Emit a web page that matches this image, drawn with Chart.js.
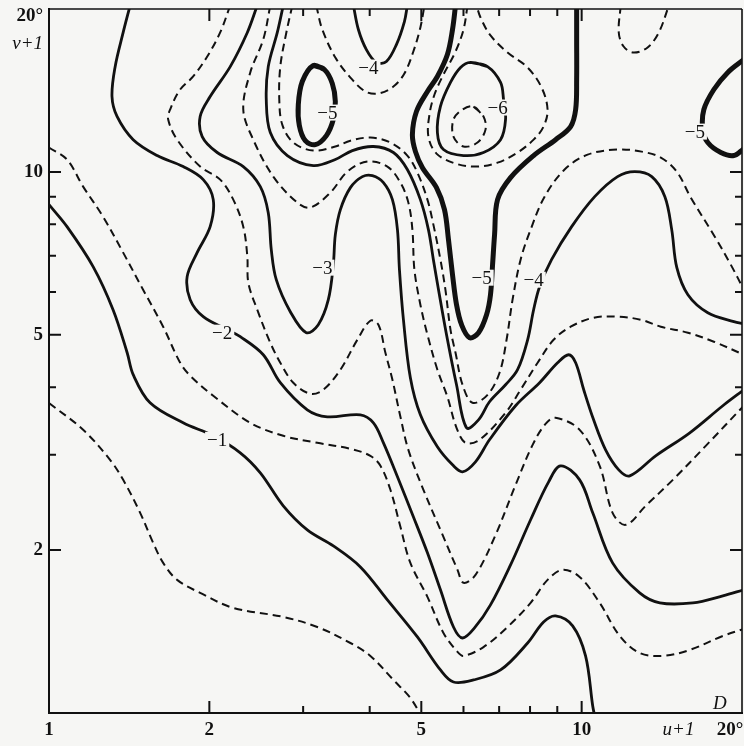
<!DOCTYPE html>
<html>
<head>
<meta charset="utf-8">
<script src="https://cdn.jsdelivr.net/npm/chart.js@4.4.1/dist/chart.umd.min.js"></script>
<style>
  html, body { margin: 0; padding: 0; background: #f6f6f4; }
</style>
</head>
<body>
<canvas id="chartD" width="744" height="746"></canvas>
<script>
// axis labels (label positions on the log axes)
var xTickVals = [1, 2, 5, 10, 15.2, 19.0];
var xTickText = ["1", "2", "5", "10", "u+1", "20°"];
var yTickVals = [2, 5, 10, 17.2, 19.4];
var yTickText = ["2", "5", "10", "v+1", "20°"];
var minorVals = [2, 3, 4, 5, 6, 7, 8, 9, 10];
var majorVals = [2, 5, 10];

// contour lines, pairs of [u+1, v+1]
var cMinus05 = [[1.00,3.74],[1.159,3.337],[1.302,2.937],[1.378,2.697],[1.483,2.344],[1.569,2.062],[1.638,1.894],[1.740,1.762],[1.922,1.667],[2.218,1.564],[2.753,1.505],[3.189,1.442],[3.680,1.347],[4.012,1.275],[4.432,1.151],[4.769,1.066],[5.002,0.987]];
var cMinus1 = [[1.00,8.70],[1.081,7.921],[1.210,6.682],[1.319,5.563],[1.402,4.632],[1.439,4.219],[1.548,3.744],[1.786,3.438],[2.034,3.253],[2.286,3.026],[2.493,2.779],[2.753,2.415],[3.054,2.180],[3.418,2.036],[3.842,1.862],[4.318,1.618],[4.916,1.382],[5.431,1.201],[5.746,1.141],[6.265,1.151],[7.043,1.201],[7.917,1.347],[8.482,1.473],[8.934,1.512],[9.618,1.449],[10.17,1.275],[10.49,1.030],[10.58,0.987]];
var cMinus15 = [[1.00,11.09],[1.081,10.54],[1.159,9.393],[1.263,8.267],[1.378,7.092],[1.502,6.057],[1.638,5.174],[1.763,4.439],[1.841,4.201],[2.034,3.857],[2.387,3.438],[2.753,3.253],[3.189,3.157],[3.680,3.078],[4.012,2.987],[4.190,2.863],[4.375,2.585],[4.568,2.208],[4.769,1.894],[5.134,1.639],[5.502,1.406],[5.847,1.297],[6.001,1.275],[6.542,1.324],[7.259,1.442],[8.020,1.598],[8.630,1.762],[9.211,1.839],[9.914,1.784],[10.81,1.598],[11.79,1.388],[12.85,1.291],[14.20,1.275],[15.96,1.308],[18.41,1.388],[20.16,1.430]];
var cMinus2 = [[1.420,20.30],[1.378,18.10],[1.331,15.65],[1.313,13.78],[1.342,12.66],[1.439,11.47],[1.596,10.72],[1.786,10.23],[1.948,9.677],[2.034,8.887],[2.007,7.921],[1.897,7.092],[1.817,6.403],[1.841,5.805],[1.948,5.400],[2.161,5.110],[2.286,4.96],[2.525,4.593],[2.718,4.077],[3.054,3.634],[3.331,3.527],[3.842,3.557],[4.065,3.438],[4.245,3.157],[4.510,2.733],[4.831,2.305],[5.134,1.977],[5.431,1.689],[5.746,1.442],[5.975,1.376],[6.293,1.436],[6.743,1.584],[7.354,1.878],[8.020,2.276],[8.670,2.674],[9.130,2.863],[9.914,2.697],[10.49,2.344],[11.43,1.894],[12.85,1.667],[14.02,1.598],[16.17,1.598],[18.41,1.646],[20.16,1.689]];
var cMinus25 = [[2.189,20.30],[2.096,18.10],[1.982,16.34],[1.865,15.01],[1.763,14.20],[1.688,13.04],[1.674,12.50],[1.740,11.47],[1.922,10.23],[2.096,9.677],[2.218,8.887],[2.316,7.921],[2.357,6.971],[2.367,6.240],[2.460,5.563],[2.603,4.833],[2.718,4.439],[2.875,4.077],[3.094,3.890],[3.273,3.957],[3.524,4.309],[3.792,4.895],[4.012,5.308],[4.154,5.219],[4.281,4.632],[4.413,4.129],[4.568,3.527],[4.728,3.064],[5.046,2.585],[5.431,2.180],[5.847,1.839],[6.001,1.740],[6.320,1.800],[6.893,2.134],[7.515,2.640],[8.090,3.130],[8.555,3.423],[8.934,3.512],[9.914,3.337],[10.81,2.863],[11.43,2.344],[12.10,2.227],[13.19,2.415],[14.83,2.697],[17.10,3.117],[20.16,3.697]];
var cMinus3 = [[2.460,20.30],[2.357,18.10],[2.189,15.65],[2.007,13.78],[1.922,12.66],[1.939,11.62],[2.069,10.86],[2.316,10.23],[2.493,9.393],[2.580,8.408],[2.614,7.183],[2.671,6.321],[2.838,5.516],[3.041,5.045],[3.203,5.219],[3.345,5.805],[3.418,6.739],[3.448,7.656],[3.524,8.516],[3.680,9.353],[3.876,9.801],[4.047,9.843],[4.245,9.554],[4.413,8.887],[4.510,7.822],[4.549,6.596],[4.628,5.331],[4.769,4.164],[4.980,3.557],[5.360,3.104],[5.722,2.875],[5.975,2.791],[6.320,2.912],[6.714,3.198],[7.515,3.697],[8.337,4.077],[9.011,4.439],[9.453,4.593],[9.744,4.439],[10.09,3.957],[10.53,3.482],[11.09,3.064],[11.74,2.814],[12.31,2.743],[13.77,2.987],[15.96,3.295],[18.41,3.697],[20.16,3.957]];
var cMinus35 = [[2.603,20.30],[2.525,17.57],[2.387,15.27],[2.316,13.04],[2.418,11.47],[2.637,9.801],[2.925,8.774],[3.094,8.589],[3.374,9.156],[3.632,10.01],[3.960,10.45],[4.318,10.23],[4.568,9.554],[4.728,8.774],[4.811,7.822],[4.853,6.596],[4.980,5.683],[5.134,5.002],[5.360,4.309],[5.597,3.840],[5.822,3.366],[6.053,3.157],[6.430,3.198],[7.197,3.588],[7.680,3.957],[8.267,4.439],[8.857,4.895],[9.535,5.174],[10.53,5.377],[11.68,5.400],[12.91,5.331],[14.08,5.174],[15.83,5.045],[17.71,4.855],[20.16,4.593]];
var cMinus4 = [[2.753,20.30],[2.683,18.10],[2.580,15.65],[2.558,13.60],[2.603,11.82],[2.802,10.72],[3.135,10.27],[3.448,10.54],[3.712,10.95],[4.065,11.14],[4.432,10.86],[4.707,10.10],[4.980,8.887],[5.156,7.822],[5.268,6.883],[5.386,6.057],[5.576,5.002],[5.822,4.042],[6.079,3.366],[6.403,3.482],[6.714,3.760],[7.197,4.042],[7.580,4.309],[7.917,4.895],[8.125,5.563],[8.337,6.136],[8.780,6.883],[9.577,7.921],[10.58,9.000],[11.68,9.801],[12.58,10.01],[13.54,9.801],[14.33,9.000],[14.76,7.822],[15.09,6.653],[15.83,5.930],[17.25,5.492],[19.31,5.286],[20.16,5.241]];
var cMinus4Top = [[3.728,20.30],[3.809,18.33],[3.943,16.83],[4.118,15.93],[4.300,16.00],[4.490,17.19],[4.648,18.96],[4.707,20.30]];
var cMinus45 = [[2.863,20.30],[2.790,18.10],[2.718,15.65],[2.706,13.60],[2.741,12.23],[2.875,11.33],[3.135,10.95],[3.448,11.14],[3.680,11.42],[4.012,11.57],[4.375,11.33],[4.707,10.72],[4.916,9.970],[5.134,8.887],[5.268,7.989],[5.431,6.883],[5.549,6.057],[5.672,5.110],[5.797,4.632],[5.975,4.042],[6.238,3.744],[6.658,3.873],[7.012,4.254],[7.228,4.895],[7.418,5.805],[7.680,6.883],[8.020,7.822],[8.519,9.000],[9.289,10.10],[10.26,10.76],[11.68,11.00],[12.96,10.90],[14.08,10.63],[15.09,10.01],[16.03,8.962],[17.78,7.591],[19.14,6.682],[20.16,6.057]];
var cMinus35Top = [[3.175,20.30],[3.259,18.33],[3.448,16.27],[3.680,14.94],[3.926,14.08],[4.154,13.96],[4.432,14.38],[4.648,15.20],[4.831,16.69],[4.980,18.49],[5.069,20.30]];
var cMinus5Loop = [[3.135,15.73],[3.288,15.46],[3.403,14.57],[3.448,13.49],[3.418,12.50],[3.317,11.67],[3.162,11.23],[3.028,11.42],[2.951,12.18],[2.938,13.32],[2.989,14.69]];
var cMinus5Mid = [[5.797,20.30],[5.722,18.33],[5.597,16.48],[5.360,15.01],[5.134,14.08],[4.896,12.93],[4.811,11.72],[4.875,10.90],[5.025,10.18],[5.339,9.353],[5.527,8.516],[5.623,7.495],[5.722,6.457],[5.822,5.683],[5.950,5.219],[6.160,4.937],[6.403,5.045],[6.629,5.446],[6.743,5.930],[6.804,6.739],[6.863,7.656],[6.952,8.887],[7.354,9.760],[8.125,10.72],[8.934,11.47],[9.535,12.13],[9.744,13.04],[9.786,14.82],[9.786,17.57],[9.786,20.30]];
var cMinus5Right = [[20.16,16.13],[18.81,15.27],[17.71,14.20],[16.96,13.04],[16.88,11.97],[17.25,11.33],[18.25,10.86],[19.31,10.72],[20.16,11.04]];
var cMinus55 = [[6.106,20.30],[6.001,18.33],[5.797,16.69],[5.502,15.13],[5.293,13.90],[5.179,12.76],[5.156,11.62],[5.339,10.81],[5.797,10.36],[6.347,10.23],[6.952,10.40],[7.580,10.86],[8.125,11.47],[8.482,12.13],[8.630,13.04],[8.409,14.32],[7.917,15.59],[7.259,16.62],[6.743,17.87],[6.458,19.29],[6.347,20.30]];
var cMinus6 = [[6.184,15.93],[6.658,15.65],[7.043,14.63],[7.135,13.60],[7.197,12.50],[7.043,11.47],[6.542,10.86],[6.001,10.72],[5.502,11.00],[5.360,11.82],[5.431,13.21],[5.672,14.63],[5.924,15.59]];
var cMinus65 = [[6.265,13.21],[6.542,12.66],[6.599,11.97],[6.375,11.33],[6.001,11.14],[5.746,11.62],[5.746,12.50],[5.975,13.04]];
var cTopRight = [[11.84,20.30],[11.74,18.10],[11.99,17.05],[12.52,16.62],[13.30,16.98],[13.96,18.10],[14.58,20.30]];

// contour value labels
var labelText = ["−1", "−2", "−3", "−4", "−5", "−6", "−5", "−4", "−5"];
var labelU = [2.069, 2.114, 3.259, 3.977, 3.331, 6.952, 6.487, 8.125, 16.31];
var labelV = [3.198, 5.045, 6.653, 15.59, 12.87, 13.15, 6.375, 6.321, 11.87];

var BG = "#f6f6f4";
var INK = "#111111";
var SERIF = "'Liberation Serif', 'DejaVu Serif', serif";

function toPts(arr) {
  return arr.map(function (p) { return {x: p[0], y: p[1]}; });
}
function closeLoop(arr) {
  return arr.concat([arr[0], arr[1]]);
}
function contour(arr, kind) {
  return {
    data: toPts(arr),
    borderColor: INK,
    borderWidth: kind == "bold" ? 5 : (kind == "dash" ? 2 : 2.8),
    borderDash: kind == "dash" ? [8, 5] : [],
    pointRadius: 0,
    tension: 0.35,
    fill: false,
    clip: 0
  };
}

var bgPlugin = {
  id: "bg",
  beforeDraw: function (chart) {
    var c = chart.ctx;
    c.save();
    c.fillStyle = BG;
    c.fillRect(0, 0, chart.width, chart.height);
    c.restore();
  }
};

// top/right frame, inward ticks, contour labels
var framePlugin = {
  id: "frame",
  afterDatasetsDraw: function (chart) {
    var c = chart.ctx, a = chart.chartArea;
    var xs = chart.scales.x, ys = chart.scales.y;
    c.save();
    c.strokeStyle = INK;
    c.lineWidth = 1.6;
    c.beginPath();
    c.moveTo(a.left, a.top); c.lineTo(a.right, a.top);
    c.moveTo(a.right, a.top); c.lineTo(a.right, a.bottom);
    c.stroke();

    c.lineWidth = 2;
    c.beginPath();
    minorVals.forEach(function (v) {
      var len = majorVals.indexOf(v) >= 0 ? 12 : 7;
      var px = xs.getPixelForValue(v);
      var py = ys.getPixelForValue(v);
      c.moveTo(px, a.bottom); c.lineTo(px, a.bottom - len);
      c.moveTo(px, a.top); c.lineTo(px, a.top + len);
      c.moveTo(a.left, py); c.lineTo(a.left + len, py);
      c.moveTo(a.right, py); c.lineTo(a.right - len, py);
    });
    c.stroke();

    c.font = "19px " + SERIF;
    c.textAlign = "center";
    c.textBaseline = "middle";
    labelText.forEach(function (t, i) {
      var px = xs.getPixelForValue(labelU[i]);
      var py = ys.getPixelForValue(labelV[i]);
      var w = c.measureText(t).width;
      c.fillStyle = BG;
      c.fillRect(px - w / 2 - 2, py - 8, w + 4, 16);
      c.fillStyle = INK;
      c.fillText(t, px, py + 1);
    });

    c.font = "italic 19px " + SERIF;
    c.fillText("D", xs.getPixelForValue(18.17), ys.getPixelForValue(1.039));
    c.restore();
  }
};

new Chart(document.getElementById("chartD").getContext("2d"), {
  type: "line",
  data: {
    datasets: [
      contour(cMinus05, "dash"),
      contour(cMinus1, "solid"),
      contour(cMinus15, "dash"),
      contour(cMinus2, "solid"),
      contour(cMinus25, "dash"),
      contour(cMinus3, "solid"),
      contour(cMinus35, "dash"),
      contour(cMinus35Top, "dash"),
      contour(cMinus4, "solid"),
      contour(cMinus4Top, "solid"),
      contour(cMinus45, "dash"),
      contour(closeLoop(cMinus5Loop), "bold"),
      contour(cMinus5Mid, "bold"),
      contour(cMinus5Right, "bold"),
      contour(cMinus55, "dash"),
      contour(closeLoop(cMinus6), "solid"),
      contour(closeLoop(cMinus65), "dash"),
      contour(cTopRight, "dash")
    ]
  },
  options: {
    responsive: false,
    animation: false,
    devicePixelRatio: 1,
    events: [],
    layout: { padding: { top: 9, right: 2, left: 0, bottom: 0 } },
    plugins: {
      legend: { display: false },
      tooltip: { enabled: false }
    },
    scales: {
      x: {
        type: "logarithmic",
        min: 1,
        max: 20,
        grid: { display: true, drawOnChartArea: false, drawTicks: false },
        border: { display: true, color: INK, width: 2 },
        afterBuildTicks: function (s) {
          s.ticks = xTickVals.map(function (v) { return { value: v }; });
        },
        afterFit: function (s) {
          s.height = 33;
          s.paddingLeft = 0;
          s.paddingRight = 0;
        },
        ticks: {
          autoSkip: false,
          maxRotation: 0,
          padding: 6,
          color: INK,
          font: function (ctx) {
            var t = xTickText[ctx.index];
            return { family: SERIF, size: 19, weight: t == "u+1" ? "normal" : "bold", style: t == "u+1" ? "italic" : "normal" };
          },
          callback: function (value, index) { return xTickText[index]; }
        }
      },
      y: {
        type: "logarithmic",
        min: 1,
        max: 20,
        grid: { display: true, drawOnChartArea: false, drawTicks: false },
        border: { display: true, color: INK, width: 2 },
        afterBuildTicks: function (s) {
          s.ticks = yTickVals.map(function (v) { return { value: v }; });
        },
        afterFit: function (s) {
          s.width = 49;
          s.paddingTop = 0;
          s.paddingBottom = 0;
        },
        ticks: {
          autoSkip: false,
          padding: 6,
          color: INK,
          font: function (ctx) {
            var t = yTickText[ctx.index];
            return { family: SERIF, size: 19, weight: t == "v+1" ? "normal" : "bold", style: t == "v+1" ? "italic" : "normal" };
          },
          callback: function (value, index) { return yTickText[index]; }
        }
      }
    }
  },
  plugins: [bgPlugin, framePlugin]
});
</script>
</body>
</html>
